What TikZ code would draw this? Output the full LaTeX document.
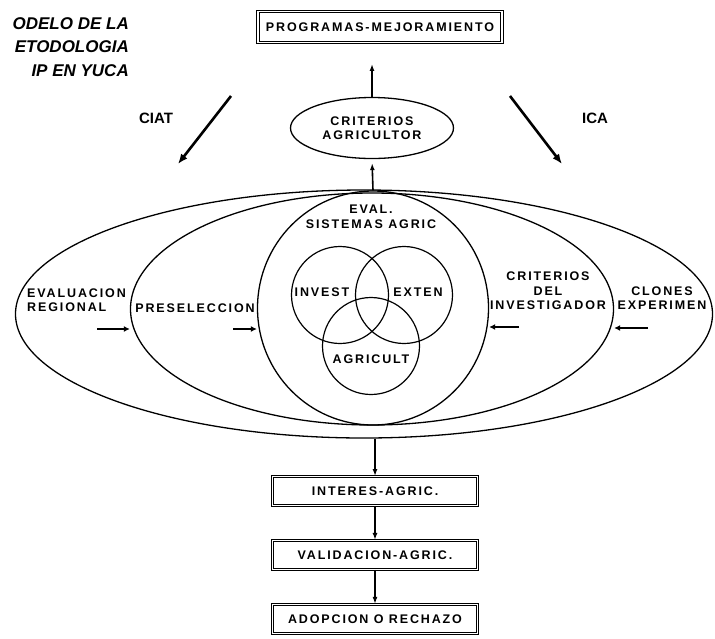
\documentclass[tikz,border=0pt]{standalone}
\usepackage{fontspec}
\setmainfont{Liberation Sans}
\newfontfamily\lblfont[LetterSpace=15]{Liberation Sans Bold}
\usetikzlibrary{positioning, shapes.geometric, arrows.meta}

\begin{document}
\begin{tikzpicture}[x=1pt, y=-1pt,
     node distance = 34pt,
        lbl/.style = {font={\lblfont\fontsize{12.5}{14.5}\selectfont}, align=center, inner sep=1pt},
       ring/.style = {ellipse, draw, line width=1.3pt, inner sep=0pt},
       venn/.style = {circle, draw, line width=1.2pt, inner sep=0pt, minimum size=97pt},
       dbox/.style = {rectangle, draw, double, double distance=1.6pt, line width=0.9pt,
                      minimum width=205pt, minimum height=29pt, lbl},
        arr/.style = {-{Latex[length=7pt,width=5pt]}, line width=1.6pt},
        fat/.style = {-{Latex[length=10pt,width=8pt]}, line width=2.6pt},
      short/.style = {-{Latex[length=6pt,width=6pt]}, line width=2.6pt}
                        ]
\useasboundingbox (0,0) rectangle (715,638);
\node (titulo) [anchor=north east, align=right, inner sep=0pt,
                font={\bfseries\itshape\fontsize{17}{23.5}\selectfont}] at (129,17)
      {ODELO DE LA\\ETODOLOGIA\\IP EN YUCA};
\node (outer) [ring, minimum width=697pt, minimum height=248pt] at (364,314) {};
\node (pre)   [ring, minimum width=483pt, minimum height=232pt] at (372,309) {};
\node (eval)  [ring, minimum width=231pt, minimum height=234pt] at (373,308) {};
\node (inv) [venn] at (340,295) {};
\node (ext) [venn] at (404,295) {};
\node (agr) [venn] at (371,346) {};
\node (teval) [lbl] at (371,217) {EVAL.\\SISTEMAS AGRIC};
\node (tinv)  [lbl] at (322,292) {INVEST};
\node (text)  [lbl] at (418,292) {EXTEN};
\node (tagr)  [lbl] at (371,359) {AGRICULT};
\node (treg)  [lbl, align=left, anchor=west] at (26,300) {EVALUACION\\REGIONAL};
\node (tpre)  [lbl] at (195,308) {PRESELECCION};
\node (tinvg) [lbl] at (548,291) {CRITERIOS\\DEL\\INVESTIGADOR};
\node (tclon) [lbl] at (662,298) {CLONES\\EXPERIMEN};
\node (crit) [ring, minimum width=163pt, minimum height=61pt, lbl] at (372,128) {CRITERIOS\\AGRICULTOR};
\node (prog) [dbox, minimum width=244pt, minimum height=31pt] at (380,27) {PROGRAMAS-MEJORAMIENTO};
\node (inter) [dbox] at (375,491) {INTERES-AGRIC.};
\node (valid) [dbox, below=of inter] {VALIDACION-AGRIC.};
\node (adop)  [dbox, below=of valid] {ADOPCION O RECHAZO};
\node (ciat) [font={\bfseries\fontsize{15}{18}\selectfont}] at (156,118) {CIAT};
\node (ica)  [font={\bfseries\fontsize{15}{18}\selectfont}] at (595,118) {ICA};
\coordinate (ciat-a) at (231,96);
\coordinate (ciat-b) at (178,164);
\coordinate (ica-a) at (510,96);
\coordinate (ica-b) at (562,164);
\coordinate (e1) at (97,329);
\coordinate (e2) at (233,329);
\coordinate (e3) at (519,327);
\coordinate (e4) at (648,328);
\draw[fat] (ciat-a) -- (ciat-b);
\draw[fat] (ica-a) -- (ica-b);
\draw[arr, shorten >=4pt] (eval.north) -- (crit.south);
\draw[arr, shorten >=21pt] (crit.north) -- (crit.north |- prog.south);
\draw[arr] (inter.north |- outer.south) -- (inter.north);
\draw[arr] (inter) -- (valid);
\draw[arr] (valid) -- (adop);
\draw[short] (e1) -- (e1 -| pre.west);
\draw[short] (e2) -- (e2 -| eval.west);
\draw[short] (e3) -- (e3 -| eval.east);
\draw[short] (e4) -- (e4 -| pre.east);
\end{tikzpicture}
\end{document}
